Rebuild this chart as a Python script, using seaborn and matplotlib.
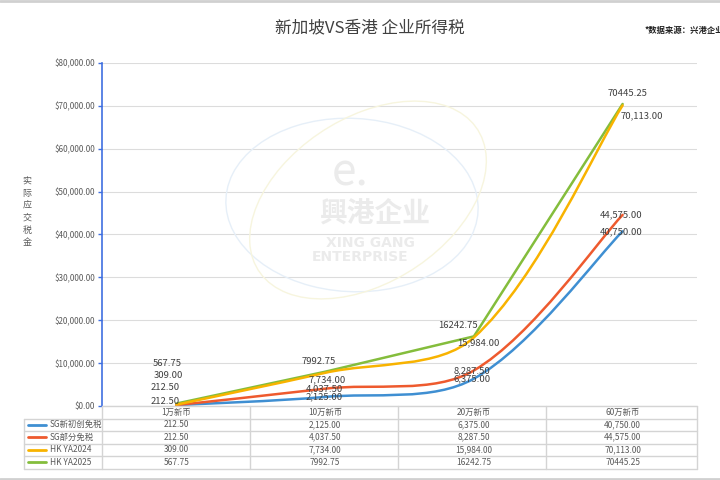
import numpy as np
import pandas as pd
import seaborn as sns
import matplotlib
matplotlib.use("Agg")
import matplotlib.pyplot as plt
from matplotlib.path import Path
from matplotlib.patches import PathPatch, Ellipse
from matplotlib.lines import Line2D
from matplotlib.transforms import blended_transform_factory
from matplotlib.ticker import FuncFormatter

# ---------------- data ----------------
categories = ["1万新币", "10万新币", "20万新币", "60万新币"]
series_names = ["SG新初创免税", "SG部分免税", "HK YA2024", "HK YA2025"]
sg_startup = [212.50, 2125.00, 6375.00, 40750.00]
sg_partial = [212.50, 4037.50, 8287.50, 44575.00]
hk_2024 = [309.00, 7734.00, 15984.00, 70113.00]
hk_2025 = [567.75, 7992.75, 16242.75, 70445.25]
table_text = [
    ["212.50", "2,125.00", "6,375.00", "40,750.00"],
    ["212.50", "4,037.50", "8,287.50", "44,575.00"],
    ["309.00", "7,734.00", "15,984.00", "70,113.00"],
    ["567.75", "7992.75", "16242.75", "70445.25"],
]
y_ticks = [0, 10000, 20000, 30000, 40000, 50000, 60000, 70000, 80000]
title = "新加坡VS香港 企业所得税"
source = "*数据来源：兴港企业"
ylabel = "实际应交税金"

values = [sg_startup, sg_partial, hk_2024, hk_2025]
colors = ["#3F8FD2", "#EE5A2E", "#F8B300", "#84BD3C"]
smooth = [True, True, True, False]

label_pos = [  # pixel positions of label centres
    [(165, 401), (324, 397), (472, 379), (621, 232)],
    [(165, 388), (324, 389), (472, 371), (621, 215)],
    [(168, 376), (327, 380), (478, 343), (642, 116)],
    [(167, 363), (319, 362), (458, 326), (628, 93)],
]

# ---------------- style ----------------
sns.set_theme(style="white")
plt.rcParams["font.family"] = ["Noto Sans CJK SC", "DejaVu Sans"]

W, H = 720, 480
fig = plt.figure(figsize=(7.2, 4.8), dpi=100)
fig.patch.set_facecolor("white")


def fx(x):
    return x / W


def fy(y):
    return 1 - y / H


ax = fig.add_axes([fx(102), fy(406), fx(697) - fx(102), (406 - 63) / H])
ax.set_facecolor("none")

# watermark
wm_col = "#EBEBEB"
fig.patches.append(Ellipse((fx(352), fy(205)), 250 / W, 175 / H, angle=25,
                           transform=fig.transFigure, fill=False,
                           edgecolor="#E6EFF8", lw=1.0, zorder=0))
fig.patches.append(Ellipse((fx(368), fy(200)), 200 / W, 215 / H, angle=-30,
                           transform=fig.transFigure, fill=False,
                           edgecolor="#F7F5DE", lw=1.0, zorder=0))
fig.text(fx(350), fy(172), "e.", fontsize=32, color=wm_col, ha="center",
         va="center", zorder=0)
fig.text(fx(375), fy(214), "興港企业", fontsize=20, color=wm_col, ha="center",
         va="center", fontweight="bold", zorder=0)
fig.text(fx(370), fy(243), "XING GANG", fontsize=10, color=wm_col, ha="center",
         va="center", fontweight="bold", family="DejaVu Sans", zorder=0)
fig.text(fx(360), fy(257), "ENTERPRISE", fontsize=10, color=wm_col, ha="center",
         va="center", fontweight="bold", family="DejaVu Sans", zorder=0)

x = np.arange(len(categories))
df = pd.DataFrame({
    "cat": np.tile(x, len(series_names)),
    "value": np.concatenate(values),
    "series": np.repeat(series_names, len(categories)),
})

ax.set_xlim(-0.5, len(categories) - 0.5)
ax.set_ylim(y_ticks[0], y_ticks[-1])

for name, col, sm in zip(series_names, colors, smooth):
    sub = df[df.series == name]
    sns.lineplot(data=sub, x="cat", y="value", ax=ax, color=col,
                 lw=1.8, alpha=0 if sm else 1, legend=False, zorder=3)

ax.set_xlim(-0.5, len(categories) - 0.5)
ax.set_ylim(y_ticks[0], y_ticks[-1])


def smooth_path(xs, ys, k=1 / 3):
    # Bezier smoothing computed in screen space, then mapped back to data
    pts = ax.transData.transform(np.column_stack([xs, ys]).astype(float))
    n = len(pts)
    verts = [pts[0]]
    codes = [Path.MOVETO]
    for i in range(n - 1):
        p0 = pts[i - 1] if i > 0 else pts[i]
        p1 = pts[i]
        p2 = pts[i + 1]
        p3 = pts[i + 2] if i + 2 < n else pts[i + 1]
        d01 = np.hypot(*(p1 - p0))
        d12 = np.hypot(*(p2 - p1))
        d23 = np.hypot(*(p3 - p2))
        c1 = p1 + (p2 - p0) / (d01 + d12) * d12 * k * (0.5 if i == 0 else 1)
        c2 = p2 - (p3 - p1) / (d12 + d23) * d12 * k * (0.5 if i + 2 >= n else 1)
        verts += [c1, c2, p2]
        codes += [Path.CURVE4] * 3
    verts = ax.transData.inverted().transform(np.array(verts))
    return Path(verts, codes)


for vals, col, sm in zip(values, colors, smooth):
    if sm:
        ax.add_patch(PathPatch(smooth_path(x, vals), fill=False, edgecolor=col,
                               lw=1.8, zorder=3, capstyle="round"))

ax.set_yticks(y_ticks)
ax.yaxis.set_major_formatter(FuncFormatter(lambda v, p: f"${v:,.2f}"))
ax.set_xticks([])
ax.set_xlabel("")
ax.set_ylabel("")
ax.grid(axis="y", color="#DCDCDC", lw=0.8)
ax.set_axisbelow(True)
for s in ["top", "right", "bottom"]:
    ax.spines[s].set_visible(False)
ax.spines["left"].set_color("#3F6FE0")
ax.spines["left"].set_linewidth(1.2)
ax.tick_params(axis="y", direction="out", length=3, width=1, color="#3F6FE0",
               labelsize=5.8, labelcolor="#595959", pad=2, left=True)

# data labels
for si, vals in enumerate(values):
    for ci in range(len(categories)):
        px_, py_ = label_pos[si][ci]
        fig.text(fx(px_), fy(py_), table_text[si][ci], fontsize=6.8,
                 color="#404040", ha="center", va="center", zorder=5)

# table
grid_c = "#D4D4D4"
rows_y = [406, 418.5, 431, 443.5, 456, 468.5]
cols_x = [102, 250, 398, 546, 697]


def fline(x0, y0, x1, y1):
    fig.add_artist(Line2D([fx(x0), fx(x1)], [fy(y0), fy(y1)],
                          transform=fig.transFigure, color=grid_c, lw=1.0))


fline(102, 406, 697, 406)
for yy in rows_y[1:]:
    fline(24, yy, 697, yy)
fline(24, 418.5, 24, 468.5)
for xx in cols_x:
    fline(xx, 406, xx, 468.5)

tr = blended_transform_factory(ax.transData, fig.transFigure)
for ci, c in enumerate(categories):
    fig.text(0, 0, c, transform=tr, fontsize=6, color="#595959",
             ha="center", va="center").set_position((ci, fy(412)))
for si, name in enumerate(series_names):
    yc = (rows_y[si + 1] + rows_y[si + 2]) / 2
    fig.add_artist(Line2D([fx(28), fx(46)], [fy(yc), fy(yc)],
                          transform=fig.transFigure, color=colors[si], lw=2))
    fig.text(fx(50), fy(yc), name, fontsize=6, color="#595959",
             ha="left", va="center")
    for ci in range(len(categories)):
        t = fig.text(0, 0, table_text[si][ci], transform=tr, fontsize=6,
                     color="#595959", ha="center", va="center")
        t.set_position((ci, fy(yc)))

# titles
fig.text(fx(370), fy(28), title, fontsize=12, color="#404040",
         ha="center", va="center")
fig.text(fx(645), fy(30), source, fontsize=6, color="#202020",
         ha="left", va="center", fontweight="bold")
fig.text(fx(27), fy(212), "\n".join(ylabel), fontsize=6.5, color="#595959",
         ha="center", va="center", linespacing=1.45)

# frame lines (screenshot borders)
fig.add_artist(Line2D([0, 1], [fy(1), fy(1)], transform=fig.transFigure,
                      color="#D0D0D0", lw=2))
fig.add_artist(Line2D([0, 1], [fy(478.5), fy(478.5)], transform=fig.transFigure,
                      color="#D0D0D0", lw=2))

fig.savefig("out.png", dpi=100, facecolor="white")
